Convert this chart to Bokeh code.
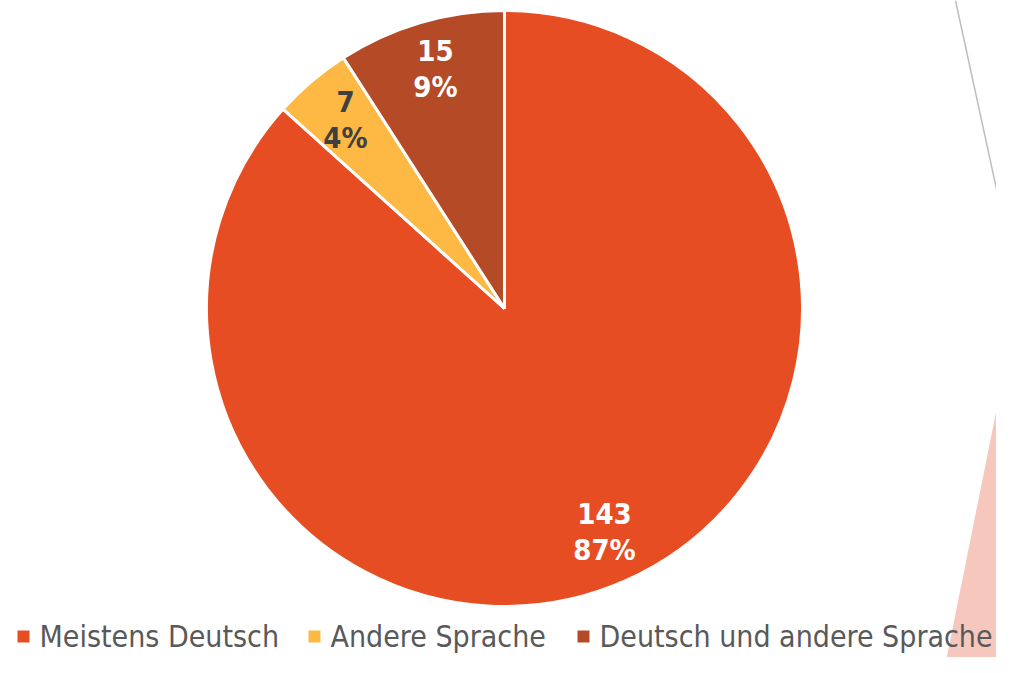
import math
from bokeh.plotting import figure
from bokeh.models import Range1d, ColumnDataSource
from bokeh.core.properties import value
from bokeh.embed import file_html
from bokeh.resources import INLINE

# ---- data ----
categories = ["Meistens Deutsch", "Andere Sprache", "Deutsch und andere Sprache"]
counts = [143, 7, 15]
percent_labels = ["87%", "4%", "9%"]
colors = ["#E64D22", "#FDB944", "#B54A27"]
label_colors = ["#FFFFFF", "#404040", "#FFFFFF"]

# ---- layout (reference pixel space, y measured up from bottom of 673px window) ----
W, H = 996, 657
FONT = "'Liberation Sans Narrow', 'DejaVu Sans Condensed', 'Roboto Condensed', sans-serif"

p = figure(width=W, height=H, output_backend="svg", toolbar_location=None,
           x_range=Range1d(0, W), y_range=Range1d(673 - H, 673),
           min_border=0)
p.axis.visible = False
p.grid.visible = False
p.outline_line_color = None
p.background_fill_color = "white"
p.border_fill_color = "white"

def Y(y):
    return 673 - y

# decorative background shapes
p.patch([1012, 943, 1012], [Y(330), Y(673), Y(673)], fill_color="#F6C7BC", line_color=None)
p.patch([1005, 1012, 1012], [Y(0), Y(0), Y(35)], fill_color="#F6C7BC", line_color=None)
p.line([955, 1012], [Y(0), Y(262)], line_color="#BDBDBD", line_width=1.5)

# pie
cx, cy, r = 504, Y(308), 298
total = sum(counts)
starts, ends = [], []
acc = 0.0
for c in counts:
    a0 = math.pi / 2 - 2 * math.pi * acc / total
    acc += c
    a1 = math.pi / 2 - 2 * math.pi * acc / total
    starts.append(a0)
    ends.append(a1)

src = ColumnDataSource(dict(start=starts, end=ends, color=colors, cat=categories))
p.wedge(x=cx, y=cy, radius=r, start_angle="start", end_angle="end", direction="clock",
        fill_color="color", line_color="white", line_width=3, source=src)

# data labels (positions in reference pixels)
label_pos = [(604, 513), (345, 101), (435, 50)]
lx = [q[0] for q in label_pos]
src_l = ColumnDataSource(dict(x=lx, y1=[Y(q[1]) for q in label_pos],
                              y2=[Y(q[1] + 36) for q in label_pos],
                              t1=[str(c) for c in counts], t2=percent_labels,
                              col=label_colors))
for yk, tk in (("y1", "t1"), ("y2", "t2")):
    p.text(x="x", y=yk, text=tk, source=src_l, text_color="col",
           text_font=value(FONT), text_font_size="29px", text_font_style="bold",
           text_align="center", text_baseline="middle")

# legend
leg_sq_x = [23, 314, 583]
leg_y = Y(636)
p.scatter(x=leg_sq_x, y=[leg_y] * 3, marker="square", size=12, fill_color=colors, line_color=None)
p.text(x=[x + 16 for x in leg_sq_x], y=[leg_y] * 3, text=categories,
       text_color="#595959", text_font=value(FONT), text_font_size="30px",
       text_align="left", text_baseline="middle")

open("out.html", "w").write(file_html(p, INLINE))
